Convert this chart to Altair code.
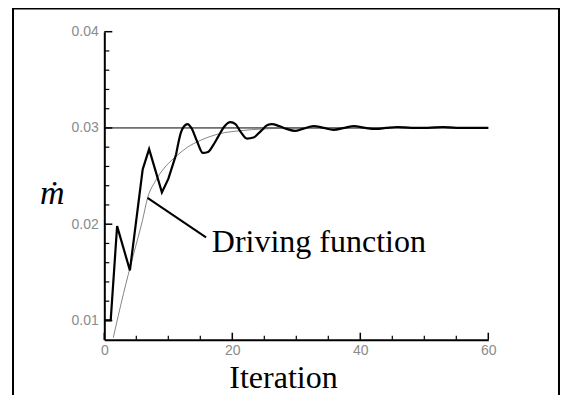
import altair as alt
import pandas as pd

# ---- data ----
iter_mdot = [0, 1, 2, 4, 6, 7, 9, 10, 11.2, 12, 12.5, 13, 13.6, 14.5, 15.4, 16.2, 17, 17.8,
             18.7, 19.7, 20.5, 21.3, 22.3, 23.3, 24.5, 25.5, 26.2, 27.3, 28.5, 29.8, 31, 32.7,
             34.3, 35.8, 37.5, 39, 40.8, 42.5, 44, 45.8, 48, 50.5, 52.9, 55, 57.5, 60]
mdot = [0.0100, 0.0100, 0.0198, 0.0152, 0.0257, 0.0278, 0.0233, 0.0247, 0.0272, 0.0296,
        0.0302, 0.0304, 0.0300, 0.0286, 0.0274, 0.0275, 0.0282, 0.0291, 0.0301, 0.0306,
        0.0304, 0.0296, 0.0289, 0.0290, 0.0297, 0.0303, 0.0304, 0.0302, 0.0299, 0.0297,
        0.0299, 0.0302, 0.0300, 0.0298, 0.0300, 0.0302, 0.0300, 0.0299, 0.0300, 0.0301,
        0.0300, 0.0300, 0.0301, 0.0300, 0.0300, 0.0300]

iter_drive = [1.4, 3, 4.5, 6, 6.75, 8, 9.2, 11.3, 13, 15, 18, 21, 25, 30, 60]
drive = [0.0082, 0.0128, 0.0167, 0.0205, 0.0227, 0.0245, 0.0257, 0.0271, 0.0280, 0.0287,
         0.0294, 0.0297, 0.0299, 0.0300, 0.0300]

target_x = [0, 60]
target_y = [0.03, 0.03]

annot_x = [6.75, 15.9]
annot_y = [0.02273, 0.01863]
label_text = ["Driving function"]
label_x = [16.8]
label_y = [0.01711]

x_major = [0, 20, 40, 60]
x_minor = [5, 10, 15, 25, 30, 35, 45, 50, 55]
y_major = [0.01, 0.02, 0.03, 0.04]
y_minor = [0.012, 0.014, 0.016, 0.018, 0.022, 0.024, 0.026, 0.028,
           0.032, 0.034, 0.036, 0.038]

W, H = 384, 308
PAD_L, PAD_T = 96.3, 23.7
CANVAS_W = 553

df_m = pd.DataFrame({"it": iter_mdot, "m": mdot})
df_early = df_m[df_m["it"] <= 11.2]
df_late = df_m[df_m["it"] >= 11.2]
df_d = pd.DataFrame({"it": iter_drive, "m": drive})
df_t = pd.DataFrame({"it": target_x, "m": target_y})
df_a = pd.DataFrame({"it": annot_x, "m": annot_y})
df_l = pd.DataFrame({"it": label_x, "m": label_y, "t": label_text})

xs = alt.Scale(domain=[0, 60], nice=False, zero=False)
ys = alt.Scale(domain=[0.008, 0.04], nice=False, zero=False)

x_axis = alt.Axis(values=x_major, ticks=False, grid=False, domainWidth=2, domainColor="black",
                  labelFont="Liberation Sans", labelFontSize=14, labelColor="#8a8a8a",
                  labelPadding=4, labelOverlap=False, labelFlush=False,
                  title="Iteration", titleFont="Liberation Serif", titleFontSize=32,
                  titleFontWeight="normal", titleColor="black", titleX=178.7, titleY=48,
                  titleAlign="center", titleBaseline="alphabetic", format="d")
y_axis = alt.Axis(values=y_major, ticks=False, grid=False, domainWidth=2, domainColor="black",
                  labelFont="Liberation Sans", labelFontSize=14, labelColor="#8a8a8a",
                  labelPadding=6, labelOverlap=False, labelFlush=False, format=".2f",
                  title="ṁ", titleFont="Liberation Serif, DejaVu Serif", titleFontSize=34,
                  titleFontStyle="italic", titleFontWeight="normal", titleColor="black",
                  titleAngle=0, titleX=-52.5, titleY=172.3, titleAlign="center",
                  titleBaseline="alphabetic")

base_x = alt.X("it:Q", scale=xs, axis=x_axis)
base_y = alt.Y("m:Q", scale=ys, axis=y_axis)

frame = alt.Chart(pd.DataFrame({"k": [0]})).mark_rect(
    fill=None, stroke="black", strokeWidth=2, clip=False
).encode(x=alt.value(13 - 8 - PAD_L), y=alt.value(0.6 - PAD_T),
         x2=alt.value(CANVAS_W - 2 - PAD_L), y2=alt.value(600))

target = alt.Chart(df_t).mark_line(color="black", strokeWidth=1).encode(x=base_x, y=base_y)
driving = alt.Chart(df_d).mark_line(color="#666", strokeWidth=0.8, interpolate="monotone",
                                    clip=True).encode(x="it:Q", y="m:Q")
early = alt.Chart(df_early).mark_line(color="black", strokeWidth=2.2).encode(x="it:Q", y="m:Q")
late = alt.Chart(df_late).mark_line(color="black", strokeWidth=2.2,
                                    interpolate="monotone").encode(x="it:Q", y="m:Q")
annot = alt.Chart(df_a).mark_line(color="black", strokeWidth=2).encode(x="it:Q", y="m:Q")
label = alt.Chart(df_l).mark_text(align="left", baseline="alphabetic", font="Liberation Serif",
                                  fontSize=32, color="black").encode(x="it:Q", y="m:Q", text="t:N")

ytick_major = alt.Chart(pd.DataFrame({"m": y_major})).mark_rule(color="black", strokeWidth=1.5).encode(
    y="m:Q", x=alt.value(0), x2=alt.value(8))
ytick_minor = alt.Chart(pd.DataFrame({"m": y_minor})).mark_rule(color="black", strokeWidth=1.2).encode(
    y="m:Q", x=alt.value(0), x2=alt.value(5))
xtick_major = alt.Chart(pd.DataFrame({"it": x_major})).mark_rule(color="black", strokeWidth=1.5).encode(
    x="it:Q", y=alt.value(H), y2=alt.value(H - 7))
xtick_minor = alt.Chart(pd.DataFrame({"it": x_minor})).mark_rule(color="black", strokeWidth=1.2).encode(
    x="it:Q", y=alt.value(H), y2=alt.value(H - 4))

chart = alt.layer(
    frame, target, driving, early, late, annot, label,
    ytick_major, ytick_minor, xtick_major, xtick_minor
).properties(
    width=W, height=H,
    autosize=alt.AutoSizeParams(type="none"),
    padding={"left": PAD_L, "top": PAD_T, "right": CANVAS_W - PAD_L - W, "bottom": 55},
    background="white",
).configure_view(stroke=None)

chart.save("out.html", embed_options={"renderer": "svg", "actions": False})
